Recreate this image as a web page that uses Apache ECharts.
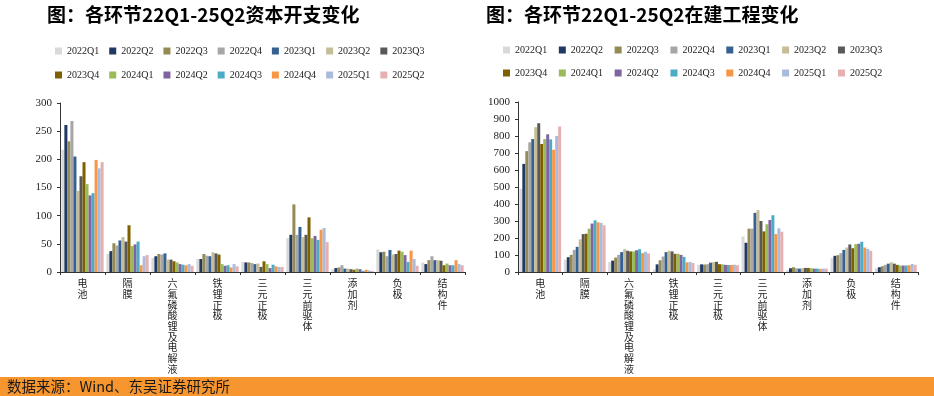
<!DOCTYPE html>
<html>
<head>
<meta charset="utf-8">
<script src="https://cdn.jsdelivr.net/npm/echarts@6/dist/echarts.min.js"></script>
<style>
  html, body { margin: 0; padding: 0; background: #fff; }
  #main { width: 934px; height: 396px; }
</style>
</head>
<body>
<div id="main"></div>
<script>
// 季度（图例）
var quarters = ['2022Q1','2022Q2','2022Q3','2022Q4','2023Q1','2023Q2','2023Q3',
                '2023Q4','2024Q1','2024Q2','2024Q3','2024Q4','2025Q1','2025Q2'];
var colors = ['#D9D9D9','#1F3864','#948A54','#A6A6A6','#376092','#C4BD97','#595959',
              '#7F6000','#9BBB59','#8064A2','#4BACC6','#F79646','#A9BCDD','#E6B0B0'];
// 环节
var categories = ['电池','隔膜','六氟磷酸锂及电解液','铁锂正极','三元正极','三元前驱体','添加剂','负极','结构件'];

// 资本开支，每行一个环节，按季度排列
var capex = [
  [217,261,232,268,205,144,170,195,156,136,140,199,184,195], // 电池
  [32,37,51,47,56,62,54,83,46,49,54,12,28,30],               // 隔膜
  [25,28,32,31,33,22,22,19,17,14,13,12,14,11],               // 六氟磷酸锂及电解液
  [23,23,32,29,28,35,33,31,14,11,12,8,14,10],                // 铁锂正极
  [18,17,17,16,14,15,9,19,14,7,13,10,9,9],                   // 三元正极
  [60,66,120,66,80,62,66,97,60,64,57,75,78,53],              // 三元前驱体
  [5,7,8,12,6,6,5,4,6,5,2,4,3,2],                            // 添加剂
  [40,35,36,28,39,31,32,38,36,30,18,38,23,11],               // 负极
  [17,14,21,28,21,21,20,12,15,12,12,21,14,12]                // 结构件
];
// 在建工程
var cip = [
  [490,636,711,763,782,852,875,753,782,810,780,719,800,856],
  [73,87,101,130,148,192,223,225,255,285,304,292,289,275],
  [59,67,85,101,117,134,125,121,121,128,134,111,119,109],
  [14,45,69,91,117,125,121,107,107,101,89,57,59,53],
  [42,45,44,46,55,58,60,46,45,42,41,41,43,40],
  [209,172,255,255,348,364,300,239,281,306,334,223,257,237],
  [10,22,28,22,20,22,24,24,22,20,20,18,20,20],
  [81,95,99,111,130,144,162,140,164,166,178,144,136,125],
  [22,28,34,42,49,57,49,42,38,38,38,40,47,42]
];

var serif = '"Liberation Serif", "DejaVu Serif", serif';
var cjk = '"Noto Sans CJK SC", sans-serif';

function makeLegend(items, left, top, gap) {
  return {
    data: items, left: left, top: top, orient: 'horizontal',
    icon: 'rect', itemWidth: 7, itemHeight: 7, itemGap: gap,
    textStyle: { fontFamily: serif, fontSize: 10, color: '#222', width: 40 },
    selectedMode: false
  };
}

function makeX(idx) {
  return {
    type: 'category', gridIndex: idx, data: categories,
    axisLine: { lineStyle: { color: '#333', width: 1 } },
    axisTick: { show: true, length: 3, lineStyle: { color: '#333' } },
    axisLabel: {
      interval: 0, margin: 6, fontFamily: cjk, fontSize: 10, lineHeight: 10.7, color: '#222',
      formatter: function (v) { return v.split('').join('\n'); }
    }
  };
}

function makeY(idx, max, step) {
  return {
    type: 'value', gridIndex: idx, min: 0, max: max, interval: step,
    splitLine: { show: false },
    axisLine: { show: true, lineStyle: { color: '#333', width: 1 } },
    axisTick: { show: true, length: 3, lineStyle: { color: '#333' } },
    axisLabel: { fontFamily: serif, fontSize: 11, color: '#222', margin: 8,
      formatter: function (v) { return String(v); } }
  };
}

var series = [];
[capex, cip].forEach(function (tbl, g) {
  quarters.forEach(function (q, k) {
    series.push({
      name: q, type: 'bar', xAxisIndex: g, yAxisIndex: g,
      barGap: 0, barCategoryGap: '6%',
      itemStyle: { color: colors[k] },
      data: tbl.map(function (row) { return row[k]; })
    });
  });
});

var chart = echarts.init(document.getElementById('main'));
chart.setOption({
  animation: false,
  color: colors,
  title: [
    { text: '图：各环节22Q1-25Q2资本开支变化', left: 42, top: 0,
      textStyle: { fontFamily: cjk, fontSize: 19, fontWeight: 'bold', color: '#000' } },
    { text: '图：各环节22Q1-25Q2在建工程变化', left: 481, top: 0,
      textStyle: { fontFamily: cjk, fontSize: 19, fontWeight: 'bold', color: '#000' } }
  ],
  legend: [
    makeLegend(quarters.slice(0, 7), 50, 41, 10),
    makeLegend(quarters.slice(7), 50, 65, 10),
    makeLegend(quarters.slice(0, 7), 498, 40, 11.6),
    makeLegend(quarters.slice(7), 498, 63, 11.6)
  ],
  grid: [
    { left: 60, top: 103, width: 405, height: 169 },
    { left: 518, top: 102, width: 400, height: 170 }
  ],
  xAxis: [makeX(0), makeX(1)],
  yAxis: [makeY(0, 300, 50), makeY(1, 1000, 100)],
  series: series,
  graphic: [
    { type: 'rect', left: 0, top: 377, shape: { width: 934, height: 19 }, style: { fill: '#F7962F' } },
    { type: 'text', left: 7, top: 379,
      style: { text: '数据来源：Wind、东吴证券研究所', fontFamily: cjk, fontSize: 14.5, fill: '#1a1a1a' } }
  ]
});
</script>
</body>
</html>
